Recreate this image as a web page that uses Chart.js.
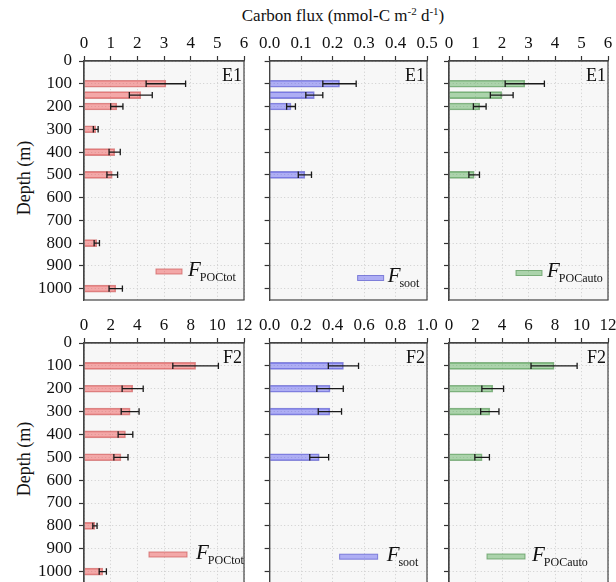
<!DOCTYPE html>
<html>
<head>
<meta charset="utf-8">
<script src="https://cdn.jsdelivr.net/npm/chart.js@4/dist/chart.umd.min.js"></script>
<style>
  body { margin: 0; width: 616px; height: 582px; overflow: hidden; background: #fff; position: relative;
         font-family: 'Liberation Serif', 'Times New Roman', serif; color: #111; }
  canvas { position: absolute; }
  #title { position: absolute; left: 343px; top: 6px; transform: translateX(-50%); white-space: nowrap; font-size: 17px; line-height: 20px; }
  #title sup { font-size: 11px; line-height: 0; vertical-align: 6px; }
  .ylab { position: absolute; left: 24px; white-space: nowrap; font-size: 18px; line-height: 20px;
          transform: translate(-50%, -50%) rotate(-90deg); }
</style>
</head>
<body>
<div id="title">Carbon flux (mmol-C m<sup>-2</sup> d<sup>-1</sup>)</div>
<div class="ylab" style="top:178px">Depth (m)</div>
<div class="ylab" style="top:459px">Depth (m)</div>

<script>
// Sampling depths (m) and fluxes (mmol-C m-2 d-1) with their uncertainties
const depthTicks = [0, 100, 200, 300, 400, 500, 600, 700, 800, 900, 1000];

// Station E1
const depthE1Tot = [100, 150, 200, 300, 400, 500, 800, 1000];
const fluxE1Tot  = [3.07, 2.13, 1.23, 0.44, 1.15, 1.06, 0.48, 1.19];
const errE1Tot   = [0.74, 0.43, 0.23, 0.09, 0.21, 0.20, 0.10, 0.25];

const depthE1Soot = [100, 150, 200, 500];
const fluxE1Soot  = [0.222, 0.142, 0.068, 0.112];
const errE1Soot   = [0.053, 0.027, 0.014, 0.021];

const depthE1Auto = [100, 150, 200, 500];
const fluxE1Auto  = [2.86, 1.99, 1.16, 0.95];
const errE1Auto   = [0.74, 0.43, 0.24, 0.20];

// Station F2
const depthF2Tot = [100, 200, 300, 400, 500, 800, 1000];
const fluxF2Tot  = [8.37, 3.65, 3.46, 3.11, 2.77, 0.82, 1.41];
const errF2Tot   = [1.71, 0.79, 0.67, 0.55, 0.53, 0.16, 0.27];

const depthF2Soot = [100, 200, 300, 500];
const fluxF2Soot  = [0.469, 0.384, 0.383, 0.315];
const errF2Soot   = [0.096, 0.084, 0.074, 0.060];

const depthF2Auto = [100, 200, 300, 500];
const fluxF2Auto  = [7.93, 3.30, 3.08, 2.50];
const errF2Auto   = [1.74, 0.82, 0.69, 0.55];

// Flux axis ticks
const ticksE1Poc  = [0, 1, 2, 3, 4, 5, 6];
const ticksE1Soot = [0, 0.1, 0.2, 0.3, 0.4, 0.5];
const ticksF2Poc  = [0, 2, 4, 6, 8, 10, 12];
const ticksF2Soot = [0, 0.2, 0.4, 0.6, 0.8, 1.0];

const FONT = "'Liberation Serif', 'Times New Roman', serif";
const COLORS = {
  red:   { fill: 'rgba(240, 95, 95, 0.52)',  edge: 'rgba(205, 90, 90, 0.7)' },
  blue:  { fill: 'rgba(95, 95, 240, 0.48)',  edge: 'rgba(90, 90, 205, 0.7)' },
  green: { fill: 'rgba(95, 175, 95, 0.50)',  edge: 'rgba(85, 150, 85, 0.7)' }
};

const panels = [
  { left: 84,  top: 61,  w: 160, h: 239, first: true,  depth: depthE1Tot,  flux: fluxE1Tot,  err: errE1Tot,  xt: ticksE1Poc,  dec: 0, color: 'red',   tag: 'E1', sub: 'POCtot', leg: { x: 72, y: 210.5, w: 26, gap: 6 } },
  { left: 267, top: 61,  w: 160, h: 239, first: false, depth: depthE1Soot, flux: fluxE1Soot, err: errE1Soot, xt: ticksE1Soot, dec: 1, color: 'blue',  tag: 'E1', sub: 'soot',   leg: { x: 88, y: 217, w: 26, gap: 4 } },
  { left: 449, top: 61,  w: 159, h: 239, first: false, depth: depthE1Auto, flux: fluxE1Auto, err: errE1Auto, xt: ticksE1Poc,  dec: 0, color: 'green', tag: 'E1', sub: 'POCauto', leg: { x: 67, y: 212, w: 26, gap: 5 } },
  { left: 84,  top: 343, w: 160, h: 240, first: true,  depth: depthF2Tot,  flux: fluxF2Tot,  err: errF2Tot,  xt: ticksF2Poc,  dec: 0, color: 'red',   tag: 'F2', sub: 'POCtot', leg: { x: 65, y: 211.5, w: 38, gap: 9 } },
  { left: 267, top: 343, w: 160, h: 240, first: false, depth: depthF2Soot, flux: fluxF2Soot, err: errF2Soot, xt: ticksF2Soot, dec: 1, color: 'blue',  tag: 'F2', sub: 'soot',   leg: { x: 70, y: 213.7, w: 38, gap: 9 } },
  { left: 449, top: 343, w: 159, h: 240, first: false, depth: depthF2Auto, flux: fluxF2Auto, err: errF2Auto, xt: ticksF2Poc,  dec: 0, color: 'green', tag: 'F2', sub: 'POCauto', leg: { x: 38, y: 213.5, w: 38, gap: 7 } }
];

// Plot-area background
const plotBackground = {
  id: 'plotBackground',
  beforeDraw(chart) {
    const { ctx, chartArea: a } = chart;
    ctx.save();
    ctx.fillStyle = '#f7f7f7';
    ctx.fillRect(a.left, a.top, a.right - a.left, a.bottom - a.top);
    ctx.restore();
  }
};

// Horizontal error bars with end caps
const errorBars = {
  id: 'errorBars',
  afterDatasetsDraw(chart) {
    const { ctx } = chart;
    const xs = chart.scales.x;
    chart.data.datasets.forEach((ds, di) => {
      const meta = chart.getDatasetMeta(di);
      meta.data.forEach((bar, i) => {
        const v = ds.data[i].x, e = ds.errors[i];
        const x1 = xs.getPixelForValue(v - e);
        const x2 = xs.getPixelForValue(v + e);
        const y = bar.y;
        ctx.save();
        ctx.strokeStyle = '#1a1a1a';
        ctx.lineWidth = 1.3;
        ctx.beginPath();
        ctx.moveTo(x1, y); ctx.lineTo(x2, y);
        ctx.moveTo(x1, y - 3.2); ctx.lineTo(x1, y + 3.2);
        ctx.moveTo(x2, y - 3.2); ctx.lineTo(x2, y + 3.2);
        ctx.stroke();
        ctx.restore();
      });
    });
  }
};

// Frame, station tag and series key
const decorations = {
  id: 'decorations',
  afterDraw(chart) {
    const { ctx, chartArea: a } = chart;
    const p = chart.options.plugins.decorations;
    ctx.save();
    ctx.strokeStyle = '#444';
    ctx.lineWidth = 1.2;
    ctx.strokeRect(a.left, a.top, a.right - a.left, a.bottom - a.top);

    ctx.fillStyle = '#111';
    ctx.font = '18px ' + FONT;
    ctx.textAlign = 'right';
    ctx.textBaseline = 'alphabetic';
    ctx.fillText(p.tag, a.right - 2, a.top + 20);

    const lg = p.leg, c = COLORS[p.color];
    const px = a.left + lg.x, py = a.top + lg.y;
    ctx.fillStyle = c.fill;
    ctx.fillRect(px, py - 2.5, lg.w, 5);
    ctx.strokeStyle = c.edge;
    ctx.lineWidth = 1;
    ctx.strokeRect(px, py - 2.5, lg.w, 5);

    ctx.fillStyle = '#111';
    ctx.textAlign = 'left';
    ctx.font = 'italic 21px ' + FONT;
    const fx = px + lg.w + lg.gap;
    ctx.fillText('F', fx, py + 4);
    const fw = ctx.measureText('F').width;
    ctx.font = '12px ' + FONT;
    ctx.fillText(p.sub, fx + fw - 1, py + 9);
    ctx.restore();
  }
};

panels.forEach(p => {
  const L = p.first ? 62 : 10, T = 45, R = 16, B = 20;
  const cv = document.createElement('canvas');
  cv.width = L + p.w + R;
  cv.height = T + p.h + B;
  cv.style.left = (p.left - L) + 'px';
  cv.style.top = (p.top - T) + 'px';
  document.body.appendChild(cv);
  const c = COLORS[p.color];

  new Chart(cv, {
    type: 'bar',
    data: {
      datasets: [{
        data: p.depth.map((d, i) => ({ x: p.flux[i], y: d })),
        errors: p.err,
        backgroundColor: c.fill,
        borderColor: c.edge,
        borderWidth: 1,
        barThickness: 7
      }]
    },
    options: {
      indexAxis: 'y',
      responsive: false,
      animation: false,
      devicePixelRatio: 1,
      layout: { padding: { top: 0, left: 0, right: R, bottom: B } },
      plugins: {
        legend: { display: false },
        tooltip: { enabled: false },
        decorations: { tag: p.tag, sub: p.sub, leg: p.leg, color: p.color }
      },
      scales: {
        x: {
          type: 'linear',
          position: 'top',
          offset: false,
          min: p.xt[0],
          max: p.xt[p.xt.length - 1],
          afterBuildTicks: s => { s.ticks = p.xt.map(v => ({ value: v })); },
          afterFit: s => { s.height = T; },
          ticks: {
            font: { family: FONT, size: 17 },
            color: '#111',
            padding: 2,
            maxRotation: 0,
            autoSkip: false,
            callback: v => Number(v).toFixed(p.dec)
          },
          grid: { offset: false, color: '#cdcdcd', lineWidth: 1, drawTicks: true, tickLength: 5, tickColor: '#333', tickWidth: 1.2, tickBorderDash: [] },
          border: { color: '#444', width: 1.2, dash: [1, 2.5] }
        },
        y: {
          type: 'linear',
          position: 'left',
          reverse: true,
          offset: false,
          min: 0,
          max: 1050,
          afterBuildTicks: s => { s.ticks = depthTicks.map(v => ({ value: v })); },
          afterFit: s => { s.width = L; },
          ticks: {
            display: p.first,
            font: { family: FONT, size: 17 },
            color: '#111',
            padding: 7,
            autoSkip: false,
            callback: v => String(v)
          },
          grid: { offset: false, color: '#cdcdcd', lineWidth: 1, drawTicks: true, tickLength: 5, tickColor: '#333', tickWidth: 1.2, tickBorderDash: [] },
          border: { color: '#444', width: 1.2, dash: [1, 2.5] }
        }
      }
    },
    plugins: [plotBackground, errorBars, decorations]
  });
});
</script>
</body>
</html>
